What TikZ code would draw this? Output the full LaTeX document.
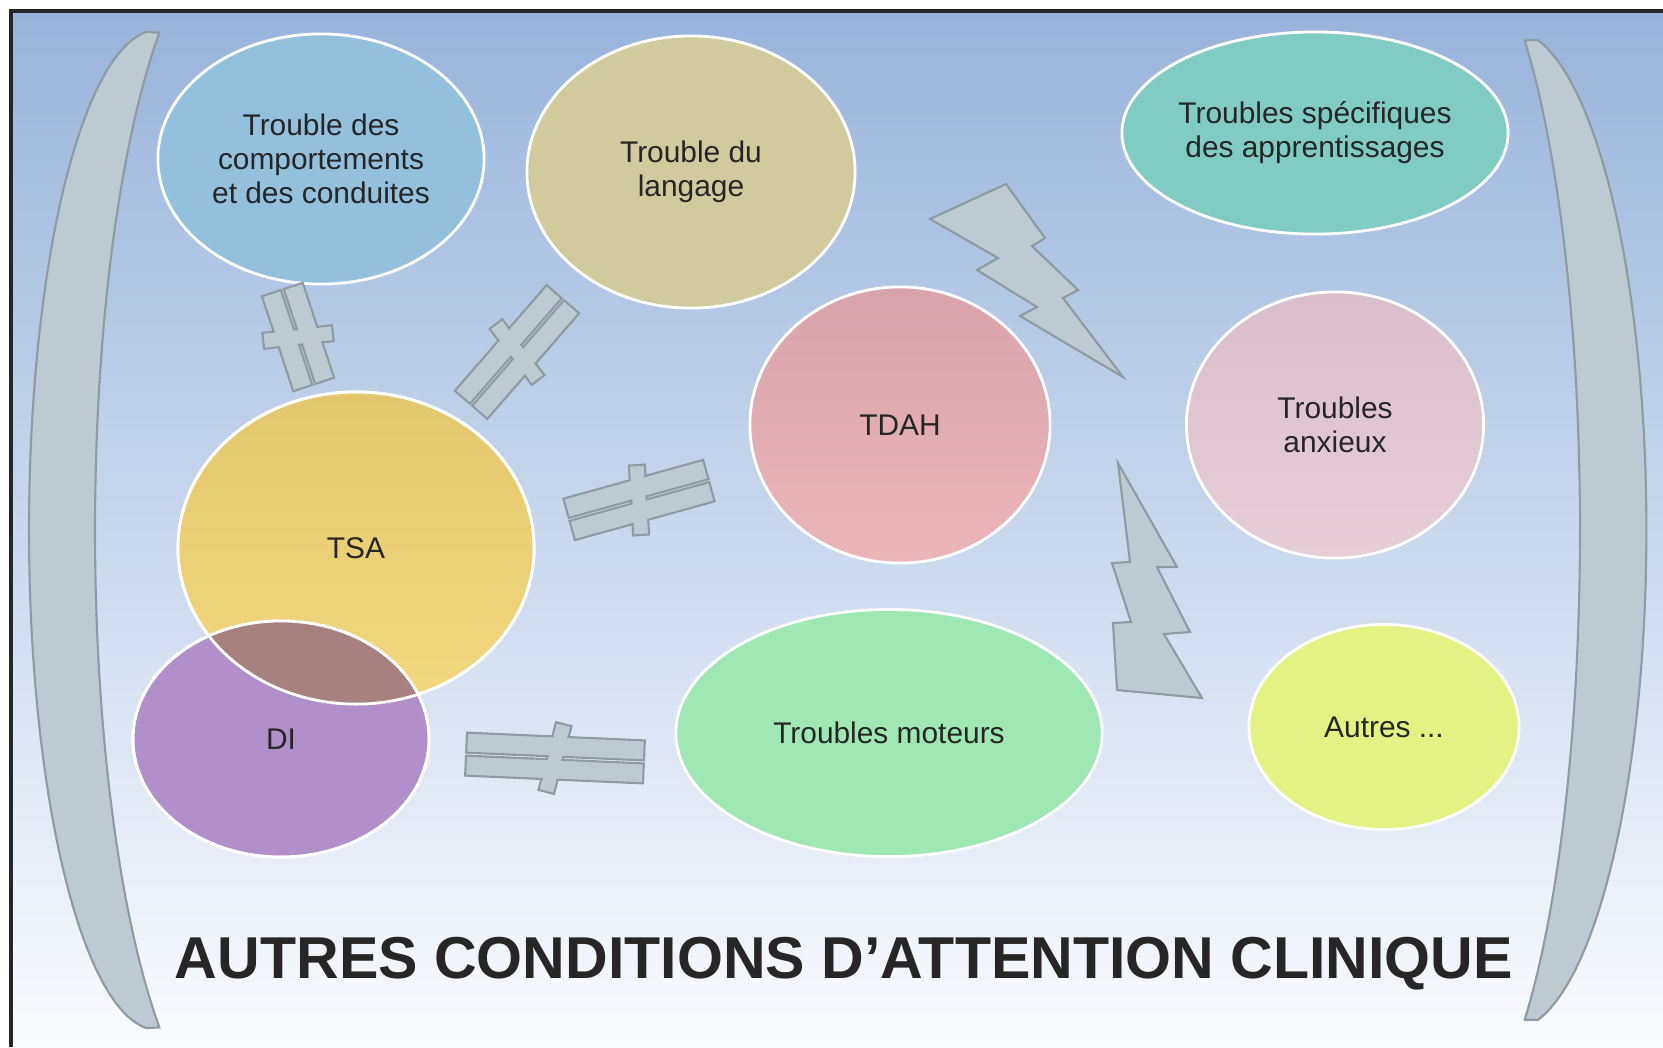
\documentclass[tikz,border=0pt]{standalone}
\usepackage{fontspec}
\setmainfont{Liberation Sans}
\usetikzlibrary{shapes.geometric}
\definecolor{txt}{HTML}{262626}
\definecolor{framecol}{HTML}{262626}
\definecolor{bgtop}{HTML}{98B4DC}
\definecolor{bgbot}{HTML}{FAFBFE}
\definecolor{brfill}{HTML}{BECAD2}
\definecolor{brline}{HTML}{8F9AA1}
\definecolor{cCom}{HTML}{93C0DD}
\definecolor{cLang}{HTML}{D0CA9D}
\definecolor{cSpec}{HTML}{80CCC2}
\definecolor{cTdahT}{HTML}{D8A3AC}
\definecolor{cTdahB}{HTML}{EBB5B8}
\definecolor{cAnxT}{HTML}{D9BECB}
\definecolor{cAnxB}{HTML}{E6CED7}
\definecolor{cTsaT}{HTML}{E2C76C}
\definecolor{cTsaB}{HTML}{F4D880}
\definecolor{cDi}{HTML}{B08FCB}
\definecolor{cMot}{HTML}{9FE8B3}
\definecolor{cAut}{HTML}{E3F283}
\definecolor{cOver}{HTML}{A88080}
\tikzset{
  neqline/.style={draw=brline, line width=0.6pt},
  pics/neqsign/.style={code={
    \path[neqline, fill=brfill, rotate=78] (-35,-8) rectangle (35,8);
    \path[neqline, fill=brfill] (-#1/2,1.5) rectangle (#1/2,21.5);
    \path[neqline, fill=brfill] (-#1/2,-21.5) rectangle (#1/2,-1.5);
    \fill[brfill, rotate=78] (-33.5,-6.6) rectangle (33.5,6.6);
  }}
}
\begin{document}
\begin{tikzpicture}[x=0.01cm,y=-0.01cm,
  bubble/.style={ellipse, draw=white, line width=0.8pt, inner sep=0pt, align=center, text=txt,
    font=\fontsize{8.5}{9.7}\selectfont},
  bracket/.style={fill=brfill, draw=brline, line width=0.6pt},
  bolt/.style={fill=brfill, draw=brline, line width=0.6pt, line join=miter},
  title/.style={font=\fontsize{16.8}{20}\selectfont\bfseries, text=txt, anchor=base, inner sep=0pt}]
\useasboundingbox (0,0) rectangle (1663,1047);
\fill[white] (0,0) rectangle (1663,1047);
\shade[top color=bgtop, bottom color=bgbot] (13,13) rectangle (1663,1047);
\draw[framecol, line width=1.15pt] (11,1047) -- (11,11) -- (1663,11);

% brackets
\draw[bracket] plot[domain=-85:85, samples=60, smooth] ({157.6-128.6*cos(\x)}, {530+500*sin(\x)})
  -- plot[domain=56:-56, samples=60, smooth] ({241-146*cos(\x)}, {530+600*sin(\x)}) -- cycle;
\draw[bracket] plot[domain=-78.5:78.5, samples=60, smooth] ({1510.8+135.6*cos(\x)}, {530+500*sin(\x)})
  -- plot[domain=54.7:-54.7, samples=60, smooth] ({1449+131*cos(\x)}, {530+600*sin(\x)}) -- cycle;

% ellipses
\node[bubble, fill=cCom, minimum width=3.26cm, minimum height=2.50cm] (com) at (321,159)
  {Trouble des\\comportements\\et des conduites};
\node[bubble, fill=cLang, minimum width=3.28cm, minimum height=2.72cm] (lang) at (691,172)
  {Trouble du\\langage};
\node[bubble, fill=cSpec, minimum width=3.86cm, minimum height=2.02cm] (spec) at (1315,133)
  {Troubles spécifiques\\des apprentissages};
\node[bubble, top color=cTdahT, bottom color=cTdahB, minimum width=3.00cm, minimum height=2.76cm] (tdah) at (900,425)
  {TDAH};
\node[bubble, top color=cAnxT, bottom color=cAnxB, minimum width=2.97cm, minimum height=2.66cm] (anx) at (1335,425)
  {Troubles\\anxieux};
\node[bubble, top color=cTsaT, bottom color=cTsaB, minimum width=3.56cm, minimum height=3.12cm] (tsa) at (356,548)
  {TSA};
\node[bubble, fill=cDi, minimum width=2.96cm, minimum height=2.36cm] (di) at (281,739)
  {DI};
\node[bubble, fill=cMot, minimum width=4.26cm, minimum height=2.47cm] (mot) at (889,733)
  {Troubles moteurs};
\node[bubble, fill=cAut, minimum width=2.70cm, minimum height=2.05cm] (aut) at (1384,727)
  {Autres ...};

% overlap TSA / DI
\begin{scope}
  \clip (tsa.center) ellipse [x radius=1.78cm, y radius=1.56cm];
  \fill[cOver] (di.center) ellipse [x radius=1.48cm, y radius=1.18cm];
\end{scope}
\draw[white, line width=0.8pt] (tsa.center) ellipse [x radius=1.78cm, y radius=1.56cm];
\draw[white, line width=0.8pt] (di.center) ellipse [x radius=1.48cm, y radius=1.18cm];

% not-equal signs
\pic[rotate=108.3] at (298,337) {neqsign=100};
\pic[rotate=49] at (517,352) {neqsign=140};
\pic[rotate=15.5] at (639,500) {neqsign=145};
\pic[rotate=-2.5] at (555,758) {neqsign=178};

% lightning bolts
\draw[bolt] (930,219) -- (1006,184) -- (1045,238) -- (1032,246) -- (1078,290) -- (1063,298)
  -- (1123,377) -- (1020,316) -- (1037,307) -- (977,270) -- (998,258) -- cycle;
\draw[bolt] (1118,463) -- (1177,567) -- (1157,567) -- (1190,632) -- (1164,634) -- (1202,698)
  -- (1117,690) -- (1113,623) -- (1131,622) -- (1112,563) -- (1130,562) -- cycle;

% title
\node[title] (ttl) at (844,978) {AUTRES CONDITIONS D’ATTENTION CLINIQUE};
\end{tikzpicture}
\end{document}
